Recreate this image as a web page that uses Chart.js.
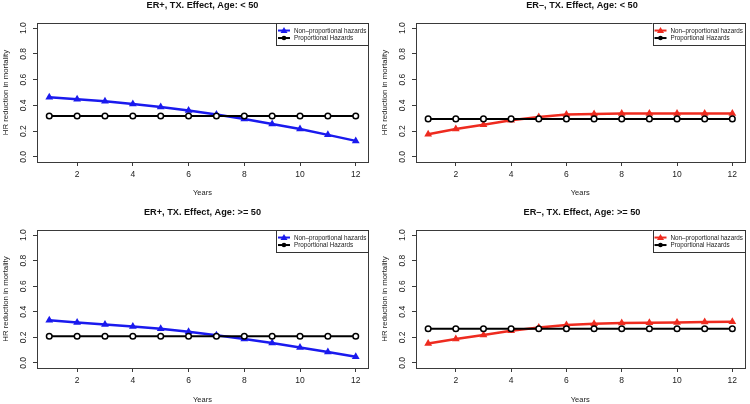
<!DOCTYPE html>
<html>
<head>
<meta charset="utf-8">
<script src="https://cdn.jsdelivr.net/npm/chart.js@4"></script>
<style>
  html, body { margin: 0; padding: 0; background: #fff; }
  #wrap { position: relative; width: 750px; height: 404px; }
  .panel { position: absolute; width: 375px; height: 202px; }
</style>
</head>
<body>
<div id="wrap">
  <canvas id="c1" class="panel" width="375" height="202" style="left:0;top:0"></canvas>
  <canvas id="c2" class="panel" width="375" height="202" style="left:375px;top:0"></canvas>
  <canvas id="c3" class="panel" width="375" height="202" style="left:0;top:202px"></canvas>
  <canvas id="c4" class="panel" width="375" height="202" style="left:375px;top:202px"></canvas>
</div>
<script>
const years = [1, 2, 3, 4, 5, 6, 7, 8, 9, 10, 11, 12];
const xTickValues = [2, 4, 6, 8, 10, 12];
const yTickValues = [0, 0.2, 0.4, 0.6, 0.8, 1.0];
const yTickLabels = ['0.0', '0.2', '0.4', '0.6', '0.8', '1.0'];

const titles = [
  'ER+, TX. Effect, Age: < 50',
  'ER–, TX. Effect, Age: < 50',
  'ER+, TX. Effect, Age: >= 50',
  'ER–, TX. Effect, Age: >= 50'
];
const seriesNames = ['Non–proportional hazards', 'Proportional Hazards'];

// non-proportional hazards
const nphErPosYoung = [0.463, 0.447, 0.432, 0.411, 0.387, 0.361, 0.329, 0.295, 0.255, 0.216, 0.171, 0.124];
const nphErNegYoung = [0.176, 0.216, 0.250, 0.284, 0.310, 0.329, 0.334, 0.337, 0.337, 0.337, 0.337, 0.336];
const nphErPosOld = [0.333, 0.317, 0.301, 0.285, 0.267, 0.243, 0.216, 0.187, 0.155, 0.120, 0.085, 0.048];
const nphErNegOld = [0.152, 0.187, 0.219, 0.251, 0.277, 0.296, 0.307, 0.312, 0.315, 0.317, 0.320, 0.323];

// proportional hazards
const phErPosYoung = [0.318, 0.318, 0.318, 0.318, 0.318, 0.318, 0.318, 0.318, 0.318, 0.318, 0.318, 0.318];
const phErNegYoung = [0.295, 0.295, 0.295, 0.295, 0.295, 0.295, 0.295, 0.295, 0.295, 0.295, 0.295, 0.295];
const phErPosOld = [0.208, 0.208, 0.208, 0.208, 0.208, 0.208, 0.208, 0.208, 0.208, 0.208, 0.208, 0.208];
const phErNegOld = [0.267, 0.267, 0.267, 0.267, 0.267, 0.267, 0.267, 0.267, 0.267, 0.267, 0.267, 0.267];

const FONT = "'Liberation Sans', Arial, sans-serif";
const BLUE = '#1a1aee';
const RED = '#ee2b1f';
const AXIS = '#3a3a3a';
const TEXT = '#222';

// box, rotated y labels, inset legend (R style)
const rStylePlugin = {
  id: 'rStyle',
  afterDraw(chart) {
    const ctx = chart.ctx;
    const a = chart.chartArea;
    const y = chart.scales.y;
    ctx.save();
    ctx.strokeStyle = AXIS;
    ctx.lineWidth = 1;
    ctx.strokeRect(Math.round(a.left) + 0.5, Math.round(a.top) + 0.5,
      Math.round(a.right - a.left), Math.round(a.bottom - a.top));

    ctx.fillStyle = TEXT;
    ctx.textAlign = 'center';
    ctx.textBaseline = 'middle';
    ctx.font = '8.5px ' + FONT;
    yTickValues.forEach((v, i) => {
      ctx.save();
      ctx.translate(a.left - 13.5, y.getPixelForValue(v));
      ctx.rotate(-Math.PI / 2);
      ctx.fillText(yTickLabels[i], 0, 0);
      ctx.restore();
    });
    ctx.save();
    ctx.font = '7.8px ' + FONT;
    ctx.translate(a.left - 31.5, (a.top + a.bottom) / 2);
    ctx.rotate(-Math.PI / 2);
    ctx.fillText('HR reduction in mortality', 0, 0);
    ctx.restore();

    // legend
    const w = 92, h = 22;
    const lx = a.right - w, ly = a.top;
    ctx.fillStyle = '#fff';
    ctx.fillRect(lx, ly, w, h);
    ctx.strokeStyle = '#333';
    ctx.strokeRect(Math.round(lx) + 0.5, Math.round(ly) + 0.5, w, h);
    chart.data.datasets.forEach((ds, i) => {
      const ry = ly + 7.5 + i * 7.5;
      ctx.strokeStyle = ds.borderColor;
      ctx.lineWidth = 2;
      ctx.beginPath();
      ctx.moveTo(lx + 2, ry);
      ctx.lineTo(lx + 14, ry);
      ctx.stroke();
      ctx.fillStyle = ds.borderColor;
      ctx.beginPath();
      if (ds.pointStyle === 'triangle') {
        ctx.moveTo(lx + 8, ry - 3.5);
        ctx.lineTo(lx + 11.5, ry + 2.5);
        ctx.lineTo(lx + 4.5, ry + 2.5);
        ctx.closePath();
      } else {
        ctx.arc(lx + 8, ry, 2.3, 0, Math.PI * 2);
      }
      ctx.fill();
      ctx.fillStyle = TEXT;
      ctx.font = '6.3px ' + FONT;
      ctx.textAlign = 'left';
      ctx.fillText(ds.label, lx + 18, ry + 0.5);
    });
    ctx.restore();
  }
};

function makePanel(id, title, nph, ph, color, opts) {
  new Chart(document.getElementById(id), {
    type: 'line',
    data: {
      labels: years,
      datasets: [
        {
          label: seriesNames[0],
          data: years.map((x, i) => ({ x: x, y: nph[i] })),
          borderColor: color,
          backgroundColor: color,
          borderWidth: 2.5,
          pointStyle: 'triangle',
          pointRadius: 4.5,
          pointBorderWidth: 0,
          tension: 0,
          order: 2
        },
        {
          label: seriesNames[1],
          data: years.map((x, i) => ({ x: x, y: ph[i] })),
          borderColor: '#000',
          backgroundColor: '#fff',
          borderWidth: 2,
          pointStyle: 'circle',
          pointRadius: 2.8,
          pointBorderWidth: 1.5,
          tension: 0,
          order: 1
        }
      ]
    },
    options: {
      responsive: false,
      animation: false,
      layout: { padding: { left: opts.left, right: opts.right, top: 0, bottom: 0 } },
      plugins: {
        legend: { display: false },
        tooltip: { enabled: false },
        title: {
          display: true,
          text: title,
          color: '#111',
          font: { family: FONT, size: 9.2, weight: 'bold', lineHeight: 1.2 },
          padding: { top: opts.titleTop, bottom: opts.boxTop - opts.titleTop - 11 }
        }
      },
      scales: {
        x: {
          type: 'linear',
          min: 0.56,
          max: 12.44,
          afterBuildTicks: s => { s.ticks = xTickValues.map(v => ({ value: v })); },
          afterFit: s => { s.height = 202 - opts.boxBottom; },
          border: { display: false },
          grid: { drawOnChartArea: false, drawTicks: true, tickLength: 4, color: AXIS },
          ticks: { color: TEXT, font: { family: FONT, size: 8.5 }, padding: 4, maxRotation: 0 },
          title: {
            display: true, text: 'Years', color: TEXT,
            font: { family: FONT, size: 7.5 },
            padding: { top: 0, bottom: opts.yearsPad }
          }
        },
        y: {
          min: -0.04,
          max: 1.04,
          afterBuildTicks: s => { s.ticks = yTickValues.map(v => ({ value: v })); },
          afterFit: s => { s.width = 0; },
          border: { display: false },
          grid: { drawOnChartArea: false, drawTicks: true, tickLength: 4, color: AXIS },
          ticks: { display: false }
        }
      }
    },
    plugins: [rStylePlugin]
  });
}

makePanel('c1', titles[0], nphErPosYoung, phErPosYoung, BLUE,
  { left: 37, right: 7, titleTop: 0, boxTop: 23, boxBottom: 162, yearsPad: 4.5 });
makePanel('c2', titles[1], nphErNegYoung, phErNegYoung, RED,
  { left: 41, right: 2, titleTop: 0, boxTop: 23, boxBottom: 162, yearsPad: 4.5 });
makePanel('c3', titles[2], nphErPosOld, phErPosOld, BLUE,
  { left: 37, right: 7, titleTop: 4.6, boxTop: 28, boxBottom: 166, yearsPad: 0 });
makePanel('c4', titles[3], nphErNegOld, phErNegOld, RED,
  { left: 41, right: 2, titleTop: 4.6, boxTop: 28, boxBottom: 166, yearsPad: 0 });
</script>
</body>
</html>
